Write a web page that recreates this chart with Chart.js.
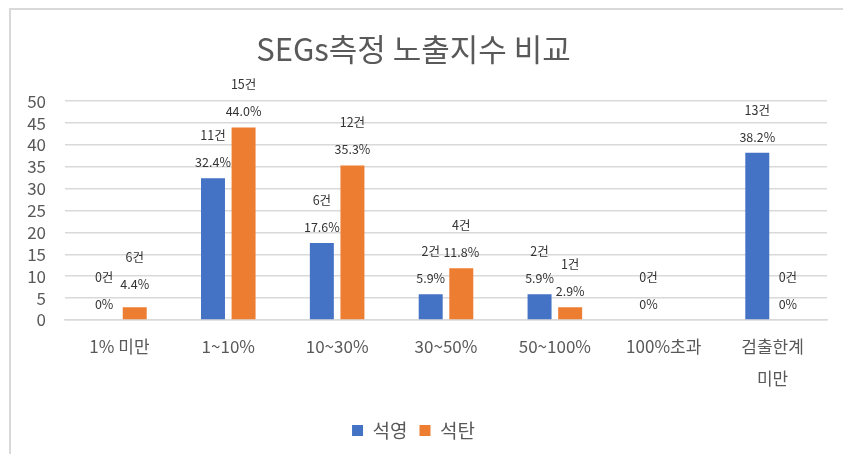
<!DOCTYPE html>
<html>
<head>
<meta charset="utf-8">
<script src="https://cdn.jsdelivr.net/npm/chart.js@4.4.0/dist/chart.umd.min.js"></script>
<style>
  html, body { margin: 0; padding: 0; background: #ffffff; }
  #wrap { position: relative; width: 843px; height: 454px; }
  canvas { display: block; }
</style>
</head>
<body>
<div id="wrap"><canvas id="c" width="843" height="454"></canvas></div>
<script>
const categories = ['1% 미만', '1~10%', '10~30%', '30~50%', '50~100%', '100%초과', ['검출한계', '미만']];
const seriesNames = ['석영', '석탄'];
const quartz = [0, 32.4, 17.6, 5.9, 5.9, 0, 38.2];
const coal = [2.9, 44.0, 35.3, 11.8, 2.9, 0, 0];
const quartzCount = ['0건', '11건', '6건', '2건', '2건', '0건', '13건'];
const quartzPct = ['0%', '32.4%', '17.6%', '5.9%', '5.9%', '0%', '38.2%'];
const coalCount = ['6건', '15건', '12건', '4건', '1건', null, '0건'];
const coalPct = ['4.4%', '44.0%', '35.3%', '11.8%', '2.9%', null, '0%'];
const yTicks = [0, 5, 10, 15, 20, 25, 30, 35, 40, 45, 50];
const titleText = 'SEGs측정 노출지수 비교';

const labelSets = [[quartzCount, quartzPct], [coalCount, coalPct]];
const FONT = '"Noto Sans CJK KR", "Noto Sans", sans-serif';
const GRAY = '#595959';

const frame = {
  id: 'frame',
  beforeDraw(chart) {
    const ctx = chart.ctx;
    ctx.save();
    ctx.fillStyle = '#ffffff';
    ctx.fillRect(0, 0, chart.width, chart.height);
    ctx.strokeStyle = '#d9d9d9';
    ctx.lineWidth = 2;
    ctx.beginPath();
    ctx.moveTo(10, chart.height);
    ctx.lineTo(10, 9);
    ctx.lineTo(chart.width, 9);
    ctx.stroke();
    ctx.restore();
  }
};

const dataLabels = {
  id: 'dataLabels',
  afterDatasetsDraw(chart) {
    const ctx = chart.ctx;
    const y = chart.scales.y;
    ctx.save();
    ctx.fillStyle = '#333333';
    ctx.font = '12.5px "Liberation Sans Narrow", "Noto Sans CJK KR", sans-serif';
    ctx.textAlign = 'center';
    ctx.textBaseline = 'middle';
    chart.data.datasets.forEach((ds, di) => {
      const meta = chart.getDatasetMeta(di);
      const [counts, pcts] = labelSets[di];
      meta.data.forEach((bar, i) => {
        if (pcts[i] == null) return;
        const v = parseFloat(pcts[i]);
        const top = y.getPixelForValue(v);
        ctx.fillText(pcts[i], bar.x, top - 16);
        ctx.fillText(counts[i], bar.x, top - 43);
      });
    });
    ctx.restore();
  }
};

new Chart(document.getElementById('c'), {
  type: 'bar',
  data: {
    labels: categories,
    datasets: [
      { label: seriesNames[0], data: quartz, backgroundColor: '#4472C4', categoryPercentage: 0.562, barPercentage: 0.784 },
      { label: seriesNames[1], data: coal, backgroundColor: '#ED7D31', categoryPercentage: 0.562, barPercentage: 0.784 }
    ]
  },
  options: {
    responsive: false,
    animation: false,
    devicePixelRatio: 1,
    layout: { padding: { left: 0, right: 16, top: 0, bottom: 4 } },
    plugins: {
      title: {
        display: true,
        text: titleText,
        color: GRAY,
        font: { family: FONT, size: 31, weight: 'normal', lineHeight: 1.2 },
        padding: { top: 31, bottom: 33 }
      },
      legend: {
        display: true,
        position: 'bottom',
        labels: {
          color: GRAY,
          font: { family: FONT, size: 19 },
          boxWidth: 11,
          boxHeight: 11,
          padding: 12
        }
      },
      tooltip: { enabled: false }
    },
    scales: {
      x: {
        grid: { display: false, drawTicks: false },
        border: { display: true, color: '#d9d9d9', width: 1.5 },
        ticks: {
          color: GRAY,
          font: { family: FONT, size: 17, lineHeight: 1.9 },
          padding: 10,
          maxRotation: 0,
          autoSkip: false
        },
        afterFit(scale) { scale.height = 89; }
      },
      y: {
        min: 0,
        max: 50,
        afterBuildTicks(scale) { scale.ticks = yTicks.map(v => ({ value: v })); },
        grid: { color: '#d9d9d9', lineWidth: 1.5, drawTicks: false },
        border: { display: false },
        ticks: {
          color: GRAY,
          font: { family: FONT, size: 17 },
          padding: 19,
          autoSkip: false
        },
        afterFit(scale) { scale.width = 65; }
      }
    }
  },
  plugins: [frame, dataLabels]
});
</script>
</body>
</html>
